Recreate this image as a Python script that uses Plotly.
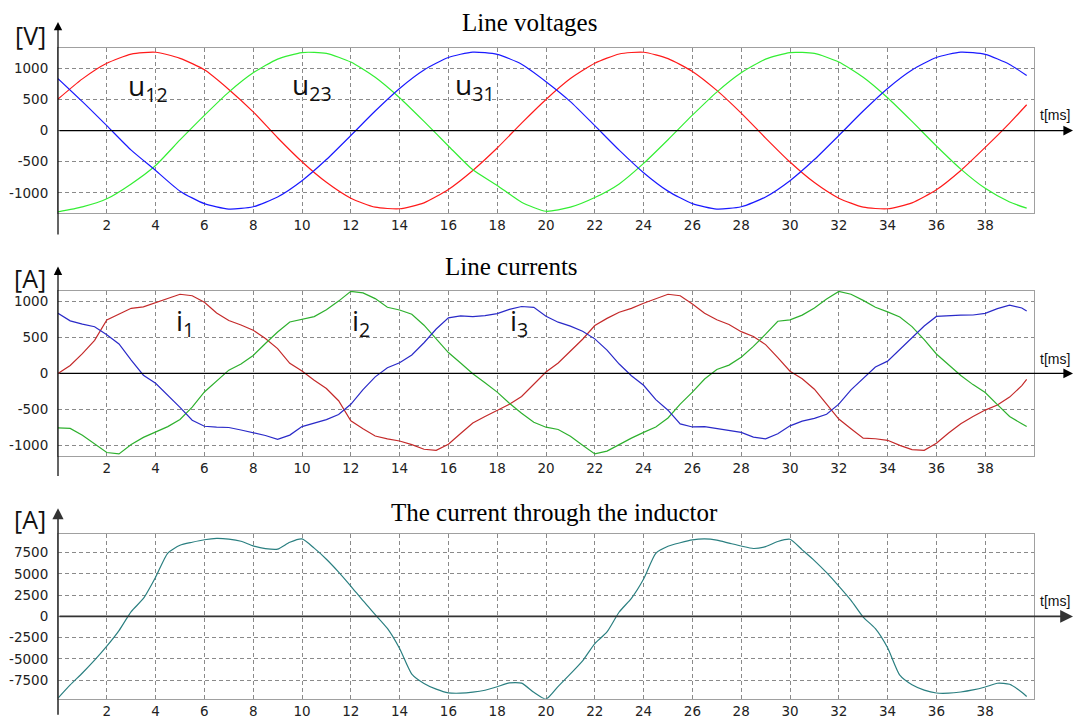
import plotly.graph_objects as go

# ---------------- data ----------------
t_u = list(range(40)) + [39.7]
u12 = [505, 830, 1080, 1228, 1258, 1160, 975, 660, 300, -115,
       -500, -830, -1085, -1230, -1255, -1160, -945, -640, -280, 120,
       500, 835, 1080, 1230, 1258, 1155, 950, 645, 280, -120,
       -505, -835, -1085, -1230, -1255, -1160, -950, -640, -270, 120, 415]
u23 = [-1305, -1225, -1095, -856, -560, -150, 245, 618, 927, 1147,
       1253, 1240, 1100, 856, 527, 147, -247, -630, -880, -1150,
       -1295, -1230, -1075, -856, -527, -147, 247, 618, 927, 1147,
       1253, 1238, 1100, 856, 527, 147, -247, -618, -927, -1147, -1245]
u31 = [835, 465, 79, -314, -640, -972, -1173, -1260, -1223, -1065,
       -804, -465, -79, 314, 676, 972, 1173, 1260, 1223, 1065,
       785, 465, 79, -314, -676, -972, -1173, -1260, -1223, -1065,
       -804, -465, -79, 314, 676, 972, 1173, 1260, 1223, 1062, 883]

t_i = [k * 0.5 for k in range(80)] + [39.7]
i1 = [0, 110, 274, 460, 744, 825, 905, 925, 985, 1040,
      1100, 1080, 990, 840, 735, 672, 600, 485, 345, 140,
      32, -95, -210, -380, -660, -770, -870, -910, -940, -990,
      -1055, -1069, -985, -835, -690, -600, -518, -430, -320, -150,
      20, 145, 310, 475, 665, 765, 850, 904, 975, 1040,
      1100, 1080, 965, 835, 745, 680, 580, 514, 400, 220,
      30, -75, -220, -427, -635, -770, -900, -909, -930, -1000,
      -1060, -1069, -970, -830, -700, -600, -510, -440, -330, -170,
      -83]
i2 = [-757, -765, -860, -975, -1100, -1120, -990, -890, -815, -740,
      -640, -470, -258, -110, 45, 130, 250, 415, 575, 715,
      748, 790, 885, 1005, 1140, 1120, 1040, 920, 882, 822,
      670, 480, 290, 145, -5, -130, -260, -415, -555, -680,
      -748, -780, -875, -1000, -1120, -1080, -985, -900, -820, -745,
      -620, -427, -260, -78, 55, 115, 225, 376, 545, 725,
      744, 810, 910, 1035, 1140, 1100, 1015, 920, 855, 785,
      650, 470, 270, 120, -30, -156, -265, -435, -600, -700,
      -739]
i3 = [835, 730, 685, 648, 537, 410, 185, -25, -138, -300,
      -473, -651, -735, -748, -752, -787, -824, -864, -918, -858,
      -740, -690, -642, -572, -430, -226, -48, 78, 148, 256,
      426, 617, 772, 800, 790, 802, 831, 889, 930, 918,
      794, 712, 657, 587, 480, 323, 130, -32, -165, -365,
      -512, -702, -745, -740, -770, -796, -820, -886, -910, -840,
      -729, -663, -626, -568, -427, -228, -66, 88, 170, 330,
      494, 658, 792, 803, 810, 812, 835, 900, 950, 909,
      868]

t_L = [k * 0.5 for k in range(80)] + [39.7]
iL = [-9620, -8065, -6660, -5154, -3503, -1669, 563, 2109, 4609, 7450,
      8376, 8730, 9020, 9175, 9088, 8840, 8300, 7975, 7910, 8723,
      9117, 8033, 6730, 5219, 3570, 1842, 214, -1421, -3784, -6792,
      -7892, -8566, -9000, -9039, -8925, -8690, -8285, -7830, -7860, -8937,
      -9740, -8245, -6773, -5240, -3200, -1831, 514, 2130, 4402, 7425,
      8256, 8665, 9000, 9115, 8975, 8626, 8280, 7990, 8210, 8816,
      9080, 7830, 6566, 5142, 3570, 1890, -78, -1445, -3700, -6926,
      -8052, -8675, -9020, -9040, -8900, -8660, -8310, -7870, -7990, -8925,
      -9428]

x_ticks = list(range(2, 40, 2))
y1_ticks = [-1000, -500, 0, 500, 1000]
y2_ticks = [-1000, -500, 0, 500, 1000]
y3_ticks = [-7500, -5000, -2500, 0, 2500, 5000, 7500]

# ---------------- figure ----------------
W, H = 1083, 719
X0, X1 = 58, 1034          # plot area left / right in px


def py(p):
    return 1 - p / H


fig = go.Figure()

traces = [
    (t_u, u12, '#ff1a1a', 'x', 'y', 'spline'),
    (t_u, u23, '#33ee33', 'x', 'y', 'spline'),
    (t_u, u31, '#1a1aff', 'x', 'y', 'spline'),
    (t_i, i1, '#c42a2a', 'x2', 'y2', 'linear'),
    (t_i, i2, '#2eb02e', 'x2', 'y2', 'linear'),
    (t_i, i3, '#2a2ac8', 'x2', 'y2', 'linear'),
    (t_L, iL, '#2a7f80', 'x3', 'y3', 'spline'),
]
for xs, ys, col, xa, ya, shp in traces:
    fig.add_trace(go.Scatter(x=xs, y=ys, mode='lines', xaxis=xa, yaxis=ya,
                             line=dict(color=col, width=1.2, shape=shp, smoothing=0.6),
                             hoverinfo='skip', showlegend=False))

panels = [
    ('', [48, 214], [-1320, 1330], y1_ticks),
    ('2', [292.3, 458.3], [-1145, 1150], y2_ticks),
    ('3', [536.7, 702.7], [-9700, 9730], y3_ticks),
]
tickfont = dict(family='DejaVu Sans', size=13.5, color='#222222')
layout = {}
for sfx, (top, bot), yr, yt in panels:
    layout['xaxis' + sfx] = dict(
        domain=[X0 / W, X1 / W], range=[0, 40], anchor='y' + sfx,
        tickvals=x_ticks, ticktext=[str(v) for v in x_ticks],
        showgrid=True, gridcolor='#8a8a8a', gridwidth=1, griddash='4px,3px',
        showline=True, mirror=True, linecolor='#a0a0a0', linewidth=1,
        zeroline=False, ticks='', tickfont=tickfont, fixedrange=True)
    layout['yaxis' + sfx] = dict(
        domain=[py(bot), py(top)], range=yr, anchor='x' + sfx,
        tickvals=yt, ticktext=[str(v) for v in yt],
        showgrid=True, gridcolor='#8a8a8a', gridwidth=1, griddash='4px,3px',
        showline=True, mirror=True, linecolor='#a0a0a0', linewidth=1,
        zeroline=False, ticks='', ticklabelstandoff=6,
        tickfont=tickfont, fixedrange=True)

ann = []
# axis arrows
axis_specs = [('', 22, 236, '#000000', 1.2), ('2', 268, 479, '#000000', 1.2),
              ('3', 511, 719, '#333333', 1.6)]
for sfx, ytop, ybot, col, w in axis_specs:
    ann.append(dict(xref='paper', yref='paper', x=X0 / W, y=py(ytop), ax=0, ay=ybot - ytop,
                    axref='pixel', ayref='pixel', text='', showarrow=True,
                    arrowhead=2, arrowsize=1.4, arrowwidth=w, arrowcolor=col))
    ann.append(dict(xref='paper', yref='y' + sfx, x=1073 / W, y=0, ax=-(1073 - X0), ay=0,
                    axref='pixel', ayref='pixel', text='', showarrow=True,
                    arrowhead=2, arrowsize=1.6, arrowwidth=w, arrowcolor=col))

# titles
titles = [('Line voltages', 529, 23), ('Line currents', 511, 268),
          ('The current through the inductor', 554, 515)]
for txt, cx, cy in titles:
    ann.append(dict(xref='paper', yref='paper', x=cx / W, y=py(cy), text=txt,
                    showarrow=False, xanchor='center', yanchor='middle',
                    font=dict(family='Liberation Serif', size=25, color='#000000')))

# unit labels
for txt, cy in [('[V]', 35), ('[A]', 280), ('[A]', 522)]:
    ann.append(dict(xref='paper', yref='paper', x=30 / W, y=py(cy), text=txt,
                    showarrow=False, xanchor='center', yanchor='middle',
                    font=dict(family='Open Sans', size=25, color='#111111')))

# t[ms] labels
for cy in [116, 361, 604]:
    ann.append(dict(xref='paper', yref='paper', x=1055 / W, y=py(cy), text='t[ms]',
                    showarrow=False, xanchor='center', yanchor='middle',
                    font=dict(family='Liberation Sans', size=14, color='#111111')))

# curve labels
curve_labels = [('u<sub>12</sub>', 3.7, 700, 'x', 'y'), ('u<sub>23</sub>', 10.4, 720, 'x', 'y'),
                ('u<sub>31</sub>', 17.1, 720, 'x', 'y'),
                ('i<sub>1</sub>', 5.2, 720, 'x2', 'y2'), ('i<sub>2</sub>', 12.4, 720, 'x2', 'y2'),
                ('i<sub>3</sub>', 18.9, 720, 'x2', 'y2')]
for txt, xv, yv, xa, ya in curve_labels:
    ann.append(dict(xref=xa, yref=ya, x=xv, y=yv, text=txt, showarrow=False,
                    xanchor='center', yanchor='middle',
                    font=dict(family='Open Sans', size=28, color='#111111')))

fig.update_layout(
    width=W, height=H, margin=dict(l=0, r=0, t=0, b=0),
    paper_bgcolor='white', plot_bgcolor='white',
    annotations=ann, showlegend=False, **layout)

fig.write_html('out.html', config={'displayModeBar': False},
               post_script="document.body.style.margin='0';document.body.style.padding='0';")
